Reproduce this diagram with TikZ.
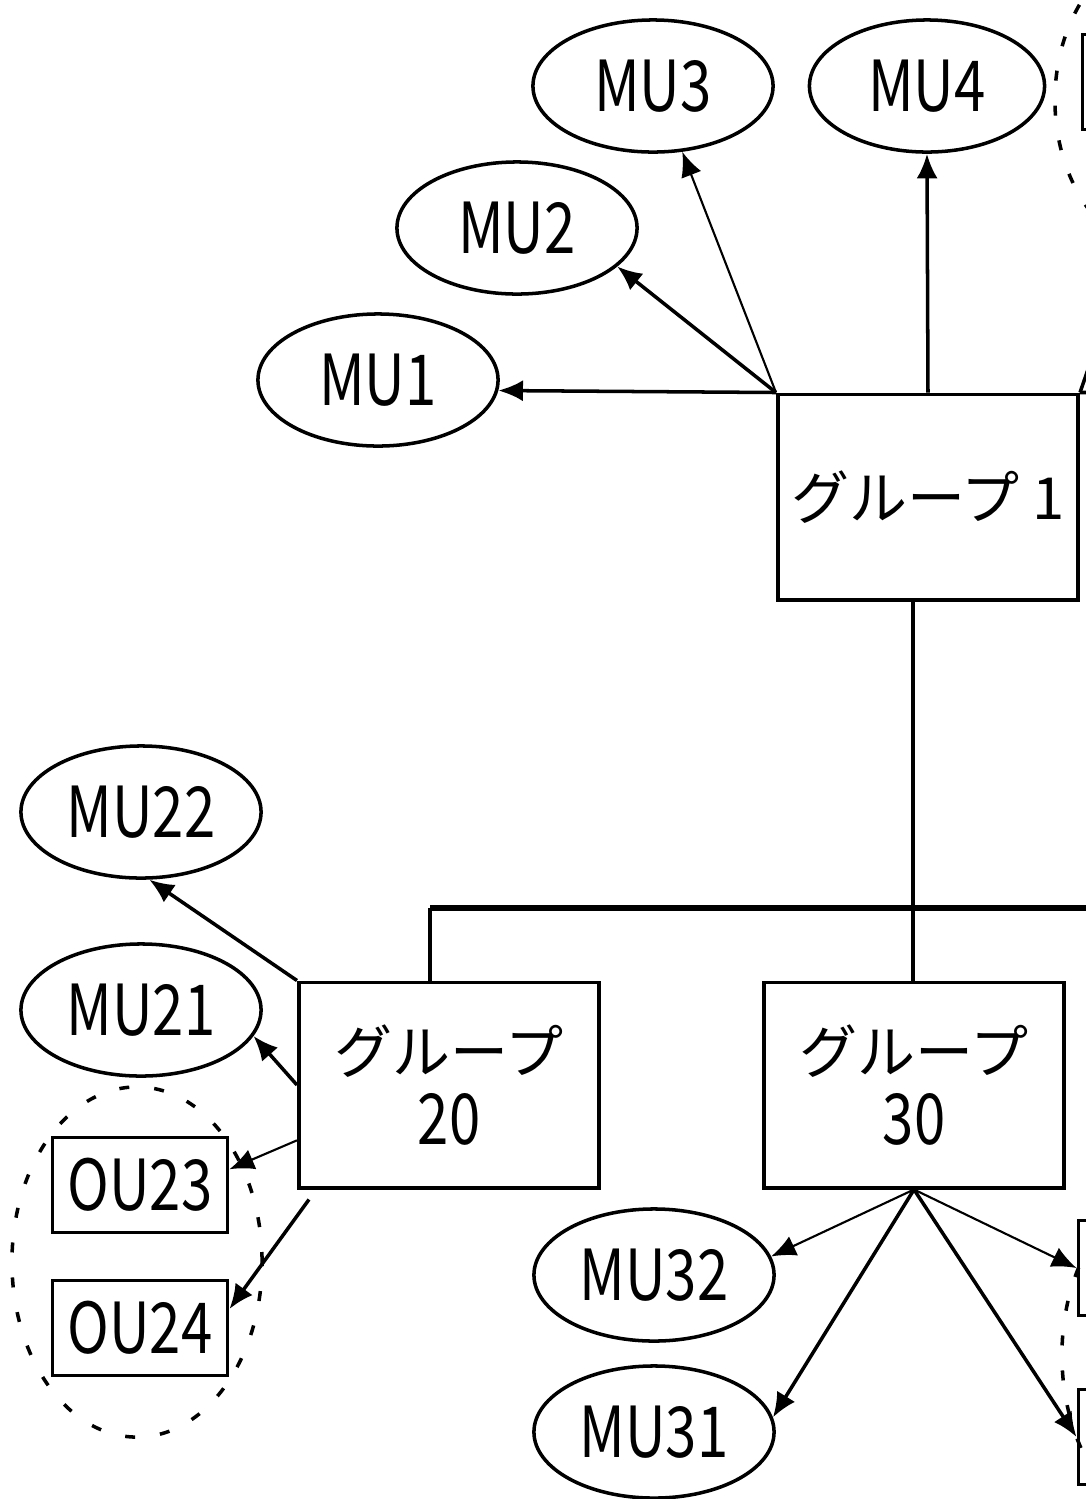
\documentclass[tikz,border=0pt]{standalone}
\usepackage{fontspec}
\usepackage{tikz}
\usetikzlibrary{shapes.geometric,arrows.meta}
\setmainfont{Noto Sans CJK JP}
\newfontfamily\mufont[FakeStretch=0.8]{Noto Sans CJK JP}
\tikzstyle{grp} = [rectangle, draw, line width=1.1pt, minimum width=3cm, minimum height=2.05cm, inner sep=0pt, align=center, font=\fontsize{16.5}{16}\selectfont]
\tikzstyle{mu} = [ellipse, draw, line width=1pt, minimum width=2.4cm, minimum height=1.32cm, inner sep=0pt, font=\mufont\fontsize{20}{22}\selectfont]
\tikzstyle{ou} = [rectangle, draw, line width=1.1pt, minimum width=1.75cm, minimum height=0.95cm, inner sep=0pt, font=\mufont\fontsize{20}{22}\selectfont]
\tikzstyle{cluster} = [ellipse, draw, line width=1pt, dash pattern=on 0.1cm off 0.25cm, minimum width=2.5cm, minimum height=3.5cm, inner sep=0pt]
\tikzstyle{fine} = [line width=0.6pt]
\tikzstyle{bus} = [-, line width=1.1pt]

\begin{document}
\begin{tikzpicture}[-{Latex[length=7pt,width=6pt]},x=0.01cm,y=-0.01cm,line width=1pt]
  \path[use as bounding box, clip] (0,0) rectangle (1086,1499);

  % groups
  \node[grp] (G1) at (928,497) {グループ 1};
  \node[grp] (G20) at (449,1085) {グループ\\[4pt]{\mufont\fontsize{20}{16}\selectfont 20}};
  \node[grp] (G30) at (914,1085) {グループ\\[4pt]{\mufont\fontsize{20}{16}\selectfont 30}};

  % members of group 1
  \node[mu] (MU1) at (378,380) {MU1};
  \node[mu] (MU2) at (517,228) {MU2};
  \node[mu] (MU3) at (653,86) {MU3};
  \node[mu, minimum width=2.35cm] (MU4) at (927,86) {MU4};
  \node[cluster, minimum height=3.2cm] (C1) at (1180,100) {};
  \node[ou] (OU1) at (1170,82) {};

  % members of group 20
  \node[mu] (MU22) at (141,812) {MU22};
  \node[mu] (MU21) at (141,1010) {MU21};
  \node[cluster] (C20) at (137,1262) {};
  \node[ou] (OU23) at (140,1185) {OU23};
  \node[ou] (OU24) at (140,1328) {OU24};

  % members of group 30
  \node[mu] (MU32) at (654,1275) {MU32};
  \node[mu] (MU31) at (654,1432) {MU31};
  \node[cluster] (C30) at (1187,1355) {};
  \node[ou] (OU33) at (1166,1268) {};
  \node[ou] (OU34) at (1166,1437) {};

  \coordinate (busM) at (913,908);
  \coordinate (busL) at (430,908);
  \coordinate (busR) at (1200,908);
  \coordinate (G1R) at (1200,393);

  % tree lines
  \draw[bus] (G1.south -| busM) -- (busM) -- (G30.north -| busM);
  \draw[bus, line width=1.6pt] (busL) -- (busR);
  \draw[bus] (busL) -- (busL |- G20.north);
  \draw[bus] (G1.north east) -- (G1R);

  \path (G1.north west) edge (MU1.-5);
  \path (G1.north west) edge (MU2.-21);
  \path (G1.north west) edge[fine] (MU3.-66);
  \path (G1.north) edge (MU4.south);
  \path (G1.north east) edge (OU1.south);

  \path (G20.north west) edge (MU22.-83);
  \path (G20.west) edge (MU21.-13);
  \path (G20.200) edge[fine] (OU23.10);
  \path ([xshift=0.12cm,yshift=-0.1cm]G20.south west) edge (OU24.12);

  \path (G30.south) edge[fine] (MU32.9);
  \path (G30.south) edge (MU31.7);
  \path (G30.south) edge[fine] (OU33.west);
  \path (G30.south) edge (OU34.west);
\end{tikzpicture}
\end{document}
